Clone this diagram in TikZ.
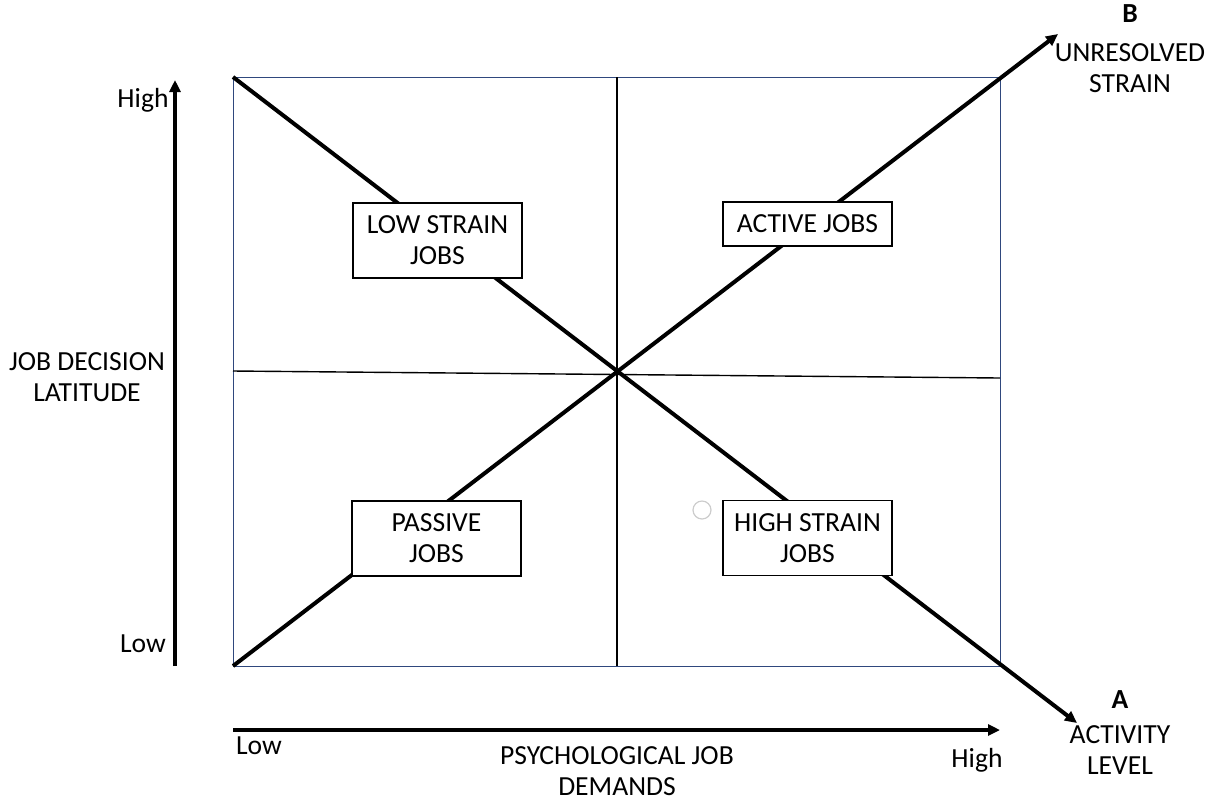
\documentclass[tikz,border=0pt]{standalone}
\usepackage{fontspec}
\setmainfont{Carlito}
\usetikzlibrary{arrows.meta}
\definecolor{framecol}{RGB}{47,72,125}
\begin{document}
\begin{tikzpicture}[x=0.5pt,y=-0.5pt,line width=0.5pt,
  every node/.style={font=\fontsize{13.8}{15.5}\selectfont,inner sep=1pt,align=center},
  jobbox/.style={draw,fill=white,line width=0.6pt,minimum width=84.5pt,inner xsep=3pt,inner ysep=6.5pt},
  axis/.style={line width=2pt,-{Triangle[length=6pt,width=5.5pt]}},
  diag/.style={line width=2pt}]
\useasboundingbox (0,0) rectangle (1211,800);
\coordinate (BL) at (233,666);
\coordinate (TL) at (233,77);
\coordinate (TR) at (1000,77);
\coordinate (BR) at (1000,666);
\coordinate (C) at (617,373);
\coordinate (Mt) at (617,77);
\coordinate (Mb) at (617,666);
\coordinate (Ml) at (233,371);
\coordinate (Mr) at (1000,378);
\coordinate (Btip) at (1058,34);
\coordinate (Atip) at (1077,723);
\coordinate (Yb) at (175,666);
\coordinate (Yt) at (175,80);
\coordinate (Xl) at (233,730);
\coordinate (Xr) at (1000,730);
\draw[framecol] (TL) rectangle (BR);
\draw[line width=0.7pt] (Mt) -- (Mb);
\draw[line width=0.7pt] (Ml) -- (Mr);
\draw[diag,-{Triangle[length=6pt,width=5.5pt]}] (BL) -- (Btip);
\draw[diag,-{Triangle[length=6pt,width=5.5pt]}] (TL) -- (Atip);
\draw[axis] (Yb) -- (Yt);
\draw[axis] (Xl) -- (Xr);
\draw[black!20,line width=0.6pt] (702,510) circle[radius=9];
\node[jobbox] (lowstrain) at (437.5,240.5) {LOW STRAIN\\JOBS};
\node[jobbox] (active) at (807.5,224) {ACTIVE JOBS};
\node[jobbox] (passive) at (436.5,538.5) {PASSIVE\\JOBS};
\node[jobbox] (highstrain) at (807.5,538) {HIGH STRAIN\\JOBS};
\node (B) at (1130,14) {\bfseries B};
\node (unres) at (1130,68) {UNRESOLVED\\STRAIN};
\node (A) at (1120,700) {\bfseries A};
\node (activity) at (1120,750) {ACTIVITY\\LEVEL};
\node (yhigh) at (143,100) {High};
\node (ylow) at (143,644) {Low};
\node (ylabel) at (87,377) {JOB DECISION\\LATITUDE};
\node (xlow) at (259,746) {Low};
\node (xlabel) at (617,771) {PSYCHOLOGICAL JOB\\DEMANDS};
\node (xhigh) at (977,760) {High};
\end{tikzpicture}
\end{document}
